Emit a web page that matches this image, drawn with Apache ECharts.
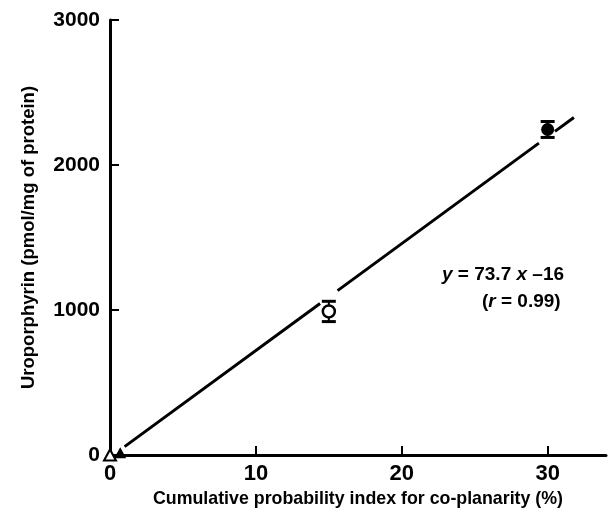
<!DOCTYPE html>
<html><head><meta charset="utf-8">
<script src="https://cdn.jsdelivr.net/npm/echarts@6/dist/echarts.min.js"></script>
<style>html,body{margin:0;padding:0;background:#fff}#c{width:610px;height:508px}</style>
</head><body><div id="c"></div>
<script>
// data
const xTicks = [0, 10, 20, 30];
const yTicks = [0, 1000, 2000, 3000];
const openTriangle = [[0, 0]];
const filledTriangle = [[0.7, 15]];
// [x, mean, error]
const openCircle = [[15, 990, 70]];
const filledCircle = [[30, 2245, 55]];
const fitSlope = 73.7;
const fitIntercept = -16;
const fitSegments = [[1, 14.4], [15.6, 29.4], [30.5, 31.8]];

const fitData = [];
fitSegments.forEach((s, i) => {
  if (i > 0) fitData.push([s[0], '-']);
  fitData.push([s[0], fitSlope * s[0] + fitIntercept]);
  fitData.push([s[1], fitSlope * s[1] + fitIntercept]);
});

const FONT = '"Liberation Sans", Arial, sans-serif';
const chart = echarts.init(document.getElementById('c'));

function errRender(params, api) {
  const x = api.value(0), m = api.value(1), e = api.value(2);
  const top = api.coord([x, m + e]);
  const bot = api.coord([x, m - e]);
  const hw = 7;
  const st = { stroke: '#000', lineWidth: 3 };
  return {
    type: 'group',
    children: [
      { type: 'line', shape: { x1: top[0], y1: top[1], x2: bot[0], y2: bot[1] }, style: { stroke: '#000', lineWidth: 2 } },
      { type: 'line', shape: { x1: top[0] - hw, y1: top[1], x2: top[0] + hw, y2: top[1] }, style: st },
      { type: 'line', shape: { x1: bot[0] - hw, y1: bot[1], x2: bot[0] + hw, y2: bot[1] }, style: st }
    ]
  };
}

const italic = { fontStyle: 'italic', fontWeight: 'bold', fontFamily: FONT, fontSize: 19, fill: '#000' };

chart.setOption({
  animation: false,
  backgroundColor: '#fff',
  grid: { left: 110, right: 4, top: 20, bottom: 53, containLabel: false, outerBoundsMode: 'none' },
  xAxis: {
    type: 'value', min: 0, max: 34, interval: 10,
    splitLine: { show: false },
    axisLine: { lineStyle: { color: '#000', width: 3 } },
    axisTick: { inside: true, length: 9, customValues: xTicks, lineStyle: { color: '#000', width: 2 } },
    axisLabel: { color: '#000', fontFamily: FONT, fontWeight: 'bold', fontSize: 22, margin: 8,
      customValues: xTicks, formatter: v => xTicks.includes(v) ? String(v) : '' },
    name: 'Cumulative probability index for co-planarity (%)',
    nameLocation: 'middle', nameGap: 33,
    nameTextStyle: { color: '#000', fontFamily: FONT, fontWeight: 'bold', fontSize: 17.8 }
  },
  yAxis: {
    type: 'value', min: 0, max: 3000, interval: 1000,
    splitLine: { show: false },
    axisLine: { lineStyle: { color: '#000', width: 3 } },
    axisTick: { inside: true, length: 9, customValues: yTicks, lineStyle: { color: '#000', width: 2 } },
    axisLabel: { color: '#000', fontFamily: FONT, fontWeight: 'bold', fontSize: 21, margin: 10,
      customValues: yTicks, formatter: v => yTicks.includes(v) ? String(v) : '' },
    name: 'Uroporphyrin (pmol/mg of protein)',
    nameLocation: 'middle', nameGap: 72, nameRotate: 90,
    nameTextStyle: { color: '#000', fontFamily: FONT, fontWeight: 'bold', fontSize: 18.5 }
  },
  series: [
    { type: 'line', data: fitData, symbol: 'none', connectNulls: false,
      lineStyle: { color: '#000', width: 3 }, z: 2 },
    { type: 'custom', renderItem: errRender, data: openCircle.concat(filledCircle), z: 3 },
    { type: 'scatter', data: openCircle.map(d => [d[0], d[1]]), symbol: 'circle', symbolSize: 12,
      itemStyle: { color: '#fff', borderColor: '#000', borderWidth: 2.5, opacity: 1 }, z: 5 },
    { type: 'scatter', data: filledCircle.map(d => [d[0], d[1]]), symbol: 'circle', symbolSize: 13,
      itemStyle: { color: '#000', opacity: 1 }, z: 5 },
    { type: 'scatter', data: openTriangle, symbol: 'triangle', symbolSize: [12, 11],
      itemStyle: { color: '#fff', borderColor: '#000', borderWidth: 2, opacity: 1 }, z: 6 },
    { type: 'scatter', data: filledTriangle, symbol: 'triangle', symbolSize: [12, 11],
      itemStyle: { color: '#000', opacity: 1 }, z: 6 }
  ],
  graphic: [
    { type: 'text', left: 442, top: 265, style: {
      text: '{i|y} = 73.7 {i|x} \u201316',
      rich: { i: italic },
      fontFamily: FONT, fontWeight: 'bold', fontSize: 19, fill: '#000' } },
    { type: 'text', left: 482, top: 292, style: {
      text: '({i|r} = 0.99)',
      rich: { i: italic },
      fontFamily: FONT, fontWeight: 'bold', fontSize: 19, fill: '#000' } }
  ]
});
</script></body></html>
